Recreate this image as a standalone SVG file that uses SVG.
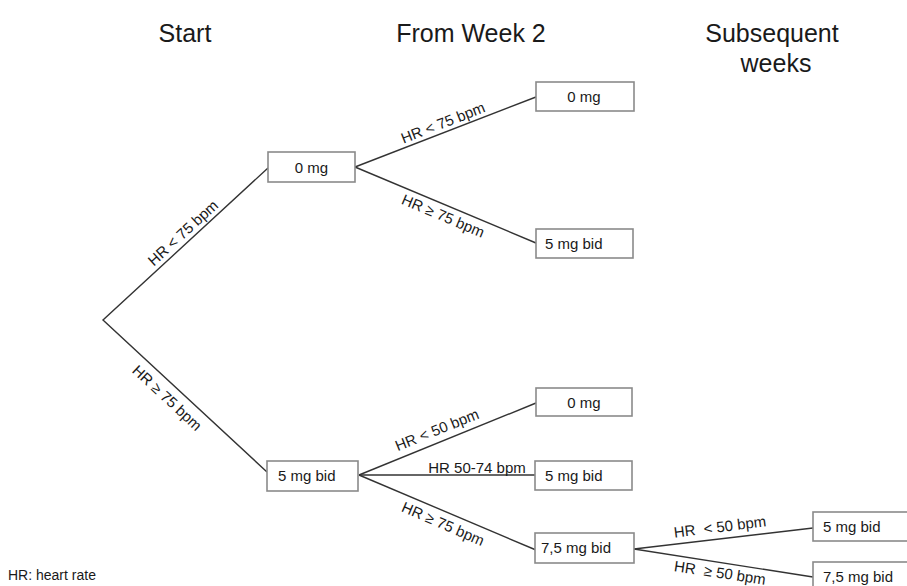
<svg xmlns="http://www.w3.org/2000/svg" width="907" height="586" viewBox="0 0 907 586">
<style>
  text { font-family: "Liberation Sans", Arial, sans-serif; fill: #1a1a1a; }
  .title { font-size: 25px; text-anchor: middle; }
  .box { fill: #ffffff; stroke: #8a8a8a; stroke-width: 1.6; }
  .bt { font-size: 15px; }
  .lbl { font-size: 15px; text-anchor: middle; white-space: pre; }
  .edge { stroke: #333333; stroke-width: 1.4; fill: none; }
</style>
<rect width="907" height="586" fill="#ffffff"/>

<g id="titles">
  <text class="title" x="185" y="42">Start</text>
  <text class="title" x="471" y="42">From Week 2</text>
  <text class="title" x="772" y="42">Subsequent</text>
  <text class="title" x="776" y="72">weeks</text>
</g>

<g id="connectors">
  <polyline class="edge" points="268,168 103,320 267,472"/>
  <line class="edge" x1="355" y1="167" x2="536" y2="97"/>
  <line class="edge" x1="355" y1="167" x2="536" y2="243"/>
  <line class="edge" x1="359" y1="475" x2="536" y2="403"/>
  <line class="edge" x1="359" y1="475" x2="536" y2="475"/>
  <line class="edge" x1="359" y1="475" x2="536" y2="550"/>
  <line class="edge" x1="634" y1="549" x2="813" y2="528"/>
  <line class="edge" x1="634" y1="549" x2="813" y2="577"/>
  <text class="lbl" transform="translate(183,233) rotate(-42.5)" y="5">HR &lt; 75 bpm</text>
  <text class="lbl" transform="translate(167,398) rotate(42.8)" y="5">HR ≥ 75 bpm</text>
  <text class="lbl" transform="translate(443,123) rotate(-21.3)" y="5">HR &lt; 75 bpm</text>
  <text class="lbl" transform="translate(443,216) rotate(22.9)" y="5">HR ≥ 75 bpm</text>
  <text class="lbl" transform="translate(437,430) rotate(-22)" y="5">HR &lt; 50 bpm</text>
  <text class="lbl" x="477" y="473">HR 50-74 bpm</text>
  <text class="lbl" transform="translate(443,524) rotate(23.5)" y="5">HR ≥ 75 bpm</text>
  <text class="lbl" transform="translate(720,527) rotate(-7)" y="5">HR  &lt; 50 bpm</text>
  <text class="lbl" transform="translate(720,573) rotate(8.5)" y="5">HR  ≥ 50 bpm</text>
</g>

<g id="n-start-0mg">
  <rect class="box" x="268" y="152" width="87" height="30"/>
  <text class="bt" x="311.5" y="173" text-anchor="middle">0 mg</text>
</g>
<g id="n-start-5mg">
  <rect class="box" x="267" y="461" width="91" height="30"/>
  <text class="bt" x="278" y="481">5 mg bid</text>
</g>
<g id="n-w2-0mg-a">
  <rect class="box" x="536" y="82" width="98" height="29"/>
  <text class="bt" x="584" y="102" text-anchor="middle">0 mg</text>
</g>
<g id="n-w2-5mg-a">
  <rect class="box" x="536" y="229" width="97" height="29"/>
  <text class="bt" x="545" y="249">5 mg bid</text>
</g>
<g id="n-w2-0mg-b">
  <rect class="box" x="536" y="388" width="96" height="28"/>
  <text class="bt" x="584" y="408" text-anchor="middle">0 mg</text>
</g>
<g id="n-w2-5mg-b">
  <rect class="box" x="535" y="461" width="97" height="29"/>
  <text class="bt" x="545" y="481">5 mg bid</text>
</g>
<g id="n-w2-75mg">
  <rect class="box" x="535" y="533" width="99" height="30"/>
  <text class="bt" x="541" y="553">7,5 mg bid</text>
</g>
<g id="n-sub-5mg">
  <rect class="box" x="813" y="512" width="100" height="29"/>
  <text class="bt" x="823" y="532">5 mg bid</text>
</g>
<g id="n-sub-75mg">
  <rect class="box" x="813" y="562" width="100" height="30"/>
  <text class="bt" x="823" y="582">7,5 mg bid</text>
</g>

<text x="8" y="580" font-size="14">HR: heart rate</text>
</svg>
